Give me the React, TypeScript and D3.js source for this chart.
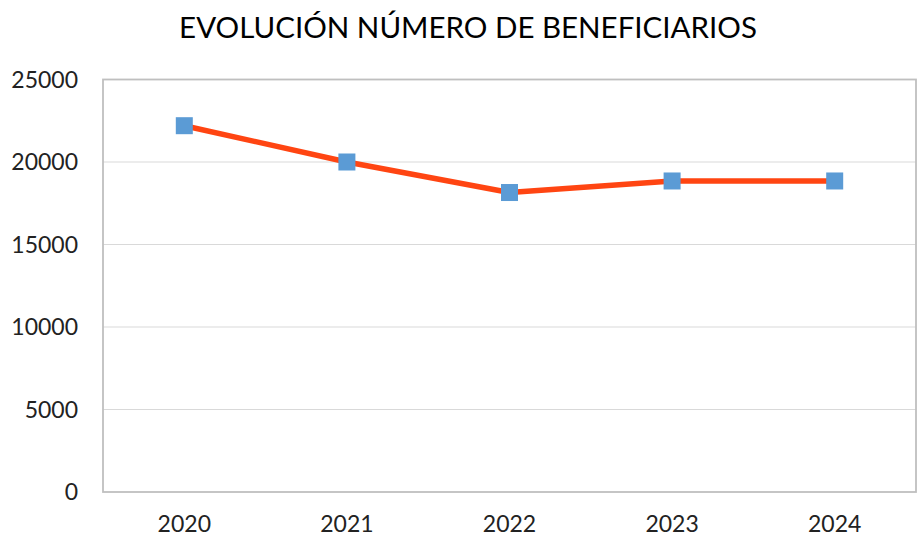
import React from 'react';
import * as d3 from 'd3';

const years = ['2020', '2021', '2022', '2023', '2024'];
const beneficiaries = [22200, 20000, 18150, 18850, 18850];
const yTicks = [0, 5000, 10000, 15000, 20000, 25000];

const W = 920;
const H = 537;
const plot = { left: 103, right: 916, top: 79.5, bottom: 492 };
const font = 'Lato, "Open Sans", sans-serif';

export default function App() {
  const x = d3.scaleBand().domain(years).range([plot.left, plot.right]);
  const y = d3.scaleLinear().domain([0, 25000]).range([plot.bottom, plot.top]);

  const points = years.map((yr, i) => [x(yr)! + x.bandwidth() / 2, y(beneficiaries[i])] as [number, number]);
  const line = d3.line()(points) || '';
  const m = 17;

  return (
    <svg width={W} height={H} style={{ position: 'absolute', left: 0, top: 0, background: '#fff' }}>
      <text x={468} y={38} textAnchor="middle" fontFamily={font} fontSize={29.5} fill="#000">
        EVOLUCIÓN NÚMERO DE BENEFICIARIOS
      </text>

      {yTicks.slice(1, -1).map(t => (
        <line key={t} x1={plot.left} x2={plot.right} y1={y(t)} y2={y(t)} stroke="#d9d9d9" strokeWidth={1.2} />
      ))}
      <rect x={plot.left} y={plot.top} width={plot.right - plot.left} height={plot.bottom - plot.top}
        fill="none" stroke="#bfbfbf" strokeWidth={1.8} />

      {yTicks.map(t => (
        <text key={t} x={78} y={y(t)} dy="0.35em" textAnchor="end" fontFamily={font} fontSize={23} fill="#222">
          {t}
        </text>
      ))}
      {years.map(yr => (
        <text key={yr} x={x(yr)! + x.bandwidth() / 2} y={532} textAnchor="middle" fontFamily={font} fontSize={23} fill="#222">
          {yr}
        </text>
      ))}

      <path d={line} fill="none" stroke="#ff4512" strokeWidth={5.5} strokeLinejoin="round" />
      {points.map(([px, py], i) => (
        <rect key={i} x={px - m / 2} y={py - m / 2} width={m} height={m} fill="#5b9bd5" />
      ))}
    </svg>
  );
}
